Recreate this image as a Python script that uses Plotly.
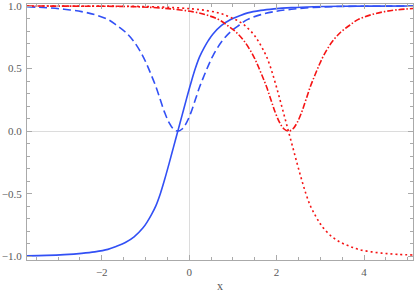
import plotly.graph_objects as go

# Blue pair (kink centred near x = -0.26)
x_blue = [-3.71, -3.26, -2.86, -2.46, -2.16, -1.86, -1.66, -1.46, -1.26, -1.06, -0.96, -0.86,
          -0.76, -0.66, -0.56, -0.46, -0.36, -0.26, -0.16, -0.06, 0.04, 0.14, 0.24, 0.34,
          0.44, 0.54, 0.74, 0.94, 1.14, 1.34, 1.64, 1.94, 2.34, 2.84, 3.44, 4.24, 5.12]
blue_solid = [-0.997, -0.993, -0.987, -0.977, -0.965, -0.945, -0.92, -0.89, -0.845, -0.775, -0.725, -0.665,
              -0.595, -0.50, -0.385, -0.26, -0.13, 0.0, 0.13, 0.26, 0.385, 0.50,
              0.595, 0.665, 0.725, 0.775, 0.845, 0.89, 0.92, 0.945, 0.965, 0.977, 0.987, 0.994, 0.998, 0.999, 1.0]
blue_dashed = [0.994, 0.986, 0.974, 0.955, 0.931, 0.893, 0.846, 0.792, 0.714, 0.60, 0.525, 0.442,
               0.354, 0.25, 0.148, 0.068, 0.017, 0.0, 0.017, 0.068, 0.148, 0.25,
               0.354, 0.442, 0.525, 0.60, 0.714, 0.792, 0.846, 0.893, 0.931, 0.955, 0.974, 0.988, 0.996, 0.998, 1.0]

# Red pair (anti-kink centred near x = 2.27)
x_red = [-3.71, -2.23, -1.43, -0.83, -0.33, 0.07, 0.37, 0.67, 0.87, 1.07, 1.27, 1.47, 1.57, 1.67,
         1.77, 1.87, 1.97, 2.07, 2.17, 2.27, 2.37, 2.47, 2.57, 2.67, 2.77, 2.87, 2.97, 3.07,
         3.27, 3.47, 3.67, 3.87, 4.17, 4.47, 4.77, 5.12]
red_dotted = [1.0, 0.999, 0.998, 0.994, 0.987, 0.977, 0.965, 0.945, 0.92, 0.89, 0.845, 0.775, 0.725, 0.665,
              0.595, 0.50, 0.385, 0.26, 0.13, 0.0, -0.13, -0.26, -0.385, -0.50, -0.595, -0.665, -0.725, -0.775,
              -0.845, -0.89, -0.92, -0.945, -0.965, -0.977, -0.985, -0.99]
red_dashdot = [1.0, 0.998, 0.996, 0.988, 0.974, 0.955, 0.931, 0.893, 0.846, 0.792, 0.714, 0.60, 0.525, 0.442,
               0.354, 0.25, 0.148, 0.068, 0.017, 0.0, 0.017, 0.068, 0.148, 0.25, 0.354, 0.442, 0.525, 0.60,
               0.714, 0.792, 0.846, 0.893, 0.931, 0.955, 0.970, 0.980]

x_ticks = [-2, 0, 2, 4]
y_ticks = [-1.0, -0.5, 0.0, 0.5, 1.0]

BLUE = "rgb(50,80,245)"
RED = "rgb(245,20,20)"

fig = go.Figure()
fig.add_trace(go.Scatter(x=x_blue, y=blue_solid, mode="lines", line=dict(color=BLUE, width=1.6, shape="spline")))
fig.add_trace(go.Scatter(x=x_blue, y=blue_dashed, mode="lines", line=dict(color=BLUE, width=1.6, dash="8px,4px", shape="spline")))
fig.add_trace(go.Scatter(x=x_red, y=red_dotted, mode="lines", line=dict(color=RED, width=1.6, dash="2px,3px", shape="spline")))
fig.add_trace(go.Scatter(x=x_red, y=red_dashdot, mode="lines", line=dict(color=RED, width=1.6, dash="6px,2px,1.5px,2px", shape="spline")))

axis_common = dict(showgrid=False, zeroline=True, zerolinecolor="rgb(220,220,220)", zerolinewidth=1,
                   showline=True, linecolor="rgb(170,170,170)", linewidth=1, mirror="ticks",
                   ticks="inside", ticklen=5, tickcolor="rgb(170,170,170)", automargin=False,
                   ticklabeloverflow="allow",
                   tickfont=dict(family="Liberation Serif", size=11, color="rgb(90,90,90)"))

fig.update_xaxes(range=[-3.71, 5.12], tickvals=x_ticks, ticktext=[f"{v:d}".replace("-", "\u2212") for v in x_ticks],
                 minor=dict(dtick=0.5, tick0=0, ticks="inside", ticklen=3, tickcolor="rgb(170,170,170)"),
                 ticklabelstandoff=2,
                 title=dict(text="x", font=dict(family="Liberation Serif", size=12, color="rgb(90,90,90)"), standoff=4),
                 **axis_common)
fig.update_yaxes(range=[-1.03, 1.016], tickvals=y_ticks, ticktext=[f"{v:.1f}".replace("-", "\u2212") for v in y_ticks],
                 minor=dict(dtick=0.1, tick0=0, ticks="inside", ticklen=3, tickcolor="rgb(170,170,170)"),
                 ticklabelstandoff=2,
                 **axis_common)

fig.update_layout(width=415, height=293, margin=dict(l=27, r=2, t=4, b=33),
                  plot_bgcolor="white", paper_bgcolor="white", showlegend=False)

fig.write_html("out.html", config={"displayModeBar": False},
               post_script="document.body.style.margin='0';")
